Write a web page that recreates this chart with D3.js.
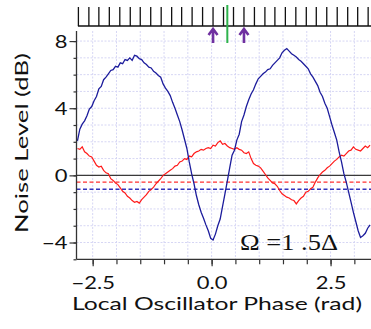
<!DOCTYPE html>
<html><head><meta charset="utf-8">
<script src="https://cdn.jsdelivr.net/npm/d3@7"></script>
<style>html,body{margin:0;padding:0;background:#fff;}svg{display:block;}</style>
</head><body>
<svg id="c" width="371" height="329"></svg>
<script>
// ---- data ----
const phaseStart = -2.82, phaseStep = 0.05;
const blueNoise = [2.05,2.75,3.05,3.25,3.55,3.95,4.1,4.45,4.7,5.15,5.3,5.7,5.85,6.05,6.25,6.3,6.5,6.45,6.7,6.65,6.9,6.85,7.0,6.85,7.15,7.1,6.95,6.9,6.7,6.6,6.45,6.4,6.2,6.1,5.95,5.85,5.45,5.2,5.0,4.75,4.35,4.0,3.6,3.2,2.7,2.15,1.6,0.8,0.1,-0.5,-1.2,-1.75,-2.2,-2.55,-2.95,-3.3,-3.75,-3.85,-3.5,-3.0,-2.6,-1.85,-1.1,-0.35,0.45,1.2,1.5,2.1,2.45,3.2,3.6,4.1,4.5,4.85,5.1,5.45,5.75,5.9,6.05,6.15,6.3,6.35,6.55,6.7,6.85,7.0,7.3,7.45,7.55,7.4,7.25,7.15,7.05,6.9,6.8,6.65,6.5,6.35,6.05,5.85,5.6,5.35,4.95,4.7,4.3,4.0,3.5,3.0,2.55,2.1,1.4,0.8,0.1,-0.4,-1.0,-1.6,-2.2,-2.75,-3.3,-3.7,-3.6,-3.45,-3.15,-2.95];
const redNoise = [1.6,1.55,1.7,1.4,1.3,1.15,1.1,0.85,0.6,0.5,0.55,0.3,0.15,0.1,-0.2,-0.3,-0.45,-0.55,-0.75,-0.95,-1.05,-1.25,-1.35,-1.5,-1.6,-1.55,-1.65,-1.45,-1.3,-1.15,-0.95,-0.85,-0.7,-0.5,-0.35,-0.2,0.0,0.1,0.2,0.3,0.4,0.55,0.6,0.8,0.85,1.0,0.95,1.15,1.1,1.3,1.4,1.45,1.55,1.5,1.6,1.65,1.6,1.8,1.75,1.95,2.05,1.85,1.9,1.75,1.65,1.6,1.55,1.65,1.55,1.5,1.35,1.3,1.4,1.0,0.7,0.6,0.55,0.45,0.25,0.05,-0.15,-0.3,-0.45,-0.5,-0.65,-0.9,-1.1,-1.2,-1.3,-1.35,-1.45,-1.5,-1.7,-1.5,-1.35,-1.25,-1.0,-0.95,-0.8,-0.7,-0.4,-0.15,0.05,0.2,0.3,0.45,0.55,0.7,0.85,0.95,1.1,1.2,1.15,1.3,1.45,1.5,1.7,1.55,1.5,1.45,1.6,1.75,1.65,1.8];
const redMean = -0.4, blueMean = -0.83, refLevel = 0;
const yMajorTicks = [-4, 0, 4, 8];
const yMinorTicks = [-5,-4,-3,-2,-1,0,1,2,3,4,5,6,7,8];
const xMajorTicks = [-2.5, 0, 2.5];
const xMinorTicks = [-2.5,-2,-1.5,-1,-0.5,0,0.5,1,1.5,2,2.5,3];
const combTicks = [-2.80,-2.58,-2.37,-2.15,-1.93,-1.71,-1.50,-1.28,-1.06,-0.84,-0.63,-0.41,-0.19,0.03,0.25,0.46,0.68,0.90,1.12,1.33,1.55,1.77,1.99,2.20,2.42,2.64,2.86,3.07,3.29];
const arrowPhases = [0.03, 0.68];
const greenPhase = 0.33;
const xTitle = "Local Oscillator Phase (rad)";
const yTitle = "Noise Level (dB)";
const annot = "Ω =1 .5Δ";

// ---- layout ----
const svg = d3.select("#c");
const L = 76.5, R = 371, T = 31, B = 259.3;
const x = d3.scaleLinear().domain([-2.84, 3.35]).range([L, R]);
const y = d3.scaleLinear().domain([-5, 8.6]).range([B, T]);
const font = "Lato, 'Open Sans', sans-serif";
function stretch(sel, f){ sel.each(function(){ const w=this.getComputedTextLength(); this.setAttribute("textLength", w*f); this.setAttribute("lengthAdjust","spacingAndGlyphs"); }); }

// grid
const grid = svg.append("g").attr("stroke","#d6d6f4").attr("stroke-width",1).attr("stroke-dasharray","2,1.5");
grid.selectAll("line.v").data(xMinorTicks).join("line").attr("class","v")
  .attr("x1",d=>x(d)).attr("x2",d=>x(d)).attr("y1",T).attr("y2",B);
grid.selectAll("line.h").data(yMinorTicks.filter(d=>d>-5)).join("line").attr("class","h")
  .attr("x1",L).attr("x2",R).attr("y1",d=>y(d)).attr("y2",d=>y(d));

// reference lines
svg.append("line").attr("x1",L).attr("x2",R).attr("y1",y(refLevel)).attr("y2",y(refLevel)).attr("stroke","#3a3a3a").attr("stroke-width",1.3);
svg.append("line").attr("x1",L).attr("x2",R).attr("y1",y(redMean)).attr("y2",y(redMean)).attr("stroke","#ff3030").attr("stroke-width",1.4).attr("stroke-dasharray","4,2.5");
svg.append("line").attr("x1",L).attr("x2",R).attr("y1",y(blueMean)).attr("y2",y(blueMean)).attr("stroke","#3333bb").attr("stroke-width",1.4).attr("stroke-dasharray","4,2.5");

// curves
const line = d3.line().x((d,i)=>x(phaseStart + i*phaseStep)).y(d=>y(d));
svg.append("clipPath").attr("id","pc").append("rect").attr("x",L).attr("y",T-10).attr("width",R-L).attr("height",B-T+10);
svg.append("path").datum(redNoise).attr("d",line).attr("fill","none").attr("stroke","#ff1a1a").attr("stroke-width",1.2).attr("clip-path","url(#pc)");
svg.append("path").datum(blueNoise).attr("d",line).attr("fill","none").attr("stroke","#1c1c9c").attr("stroke-width",1.3).attr("clip-path","url(#pc)");

// axes
const axc = "#333";
const yMinor = svg.append("g").attr("transform",`translate(${L},0)`).call(d3.axisLeft(y).tickValues(yMinorTicks).tickSize(3).tickFormat(""));
const yMajor = svg.append("g").attr("transform",`translate(${L},0)`).call(d3.axisLeft(y).tickValues(yMajorTicks).tickSize(7).tickPadding(2).tickFormat(d3.format("d")));
const xMinor = svg.append("g").attr("transform",`translate(0,${B})`).call(d3.axisBottom(x).tickValues(xMinorTicks).tickSize(5).tickFormat(""));
const xMajor = svg.append("g").attr("transform",`translate(0,${B})`).call(d3.axisBottom(x).tickValues(xMajorTicks).tickSize(7).tickPadding(11).tickFormat(d3.format(".1f")));
[yMinor,yMajor,xMinor,xMajor].forEach(g=>{
  g.select(".domain").attr("stroke",axc).attr("stroke-width",1.3);
  g.selectAll(".tick line").attr("stroke",axc).attr("stroke-width",1.2);
});
xMinor.select(".domain").remove(); yMinor.select(".domain").remove();
yMajor.select(".domain").attr("d",`M-0,${T}V${B}`);
xMajor.select(".domain").attr("d",`M${L},0H${R}`);
yMajor.selectAll(".tick text").attr("font-family",font).attr("font-size",16.5).attr("fill","#111").attr("dy","0.36em").call(stretch,1.33);
xMajor.selectAll(".tick text").attr("font-family",font).attr("font-size",16.5).attr("fill","#111").call(stretch,1.33);

// titles
svg.append("text").attr("x",217).attr("y",309.5).attr("text-anchor","middle").attr("font-family",font).attr("font-size",16.5).attr("fill","#111")
  .attr("textLength",290).attr("lengthAdjust","spacingAndGlyphs").text(xTitle);
svg.append("text").attr("transform","translate(28,143) rotate(-90)").attr("text-anchor","middle").attr("font-family",font).attr("font-size",18).attr("fill","#111")
  .attr("textLength",180).attr("lengthAdjust","spacingAndGlyphs").text(yTitle);
svg.append("text").attr("x",240).attr("y",250).attr("font-family","'Liberation Serif','DejaVu Serif',serif").attr("font-size",24).attr("fill","#111")
  .attr("textLength",98).attr("lengthAdjust","spacingAndGlyphs").text(annot);

// top comb
const comb = svg.append("g").attr("stroke","#111").attr("stroke-width",1.3);
comb.append("line").attr("x1",x(-2.81)).attr("x2",R).attr("y1",26).attr("y2",26);
comb.selectAll("line.t").data(combTicks).join("line").attr("class","t")
  .attr("x1",d=>x(d)).attr("x2",d=>x(d)).attr("y1",26).attr("y2",7);
svg.append("line").attr("x1",x(greenPhase)).attr("x2",x(greenPhase)).attr("y1",5).attr("y2",43).attr("stroke","#2eb34c").attr("stroke-width",2);
svg.selectAll("path.arrow").data(arrowPhases).join("path").attr("class","arrow")
  .attr("d",d=>{const cx=x(d); return `M${cx},43V29.5M${cx-4.5},35L${cx},29L${cx+4.5},35`;})
  .attr("fill","none").attr("stroke","#7030a0").attr("stroke-width",2.6).attr("stroke-linejoin","miter");
</script>
</body></html>
